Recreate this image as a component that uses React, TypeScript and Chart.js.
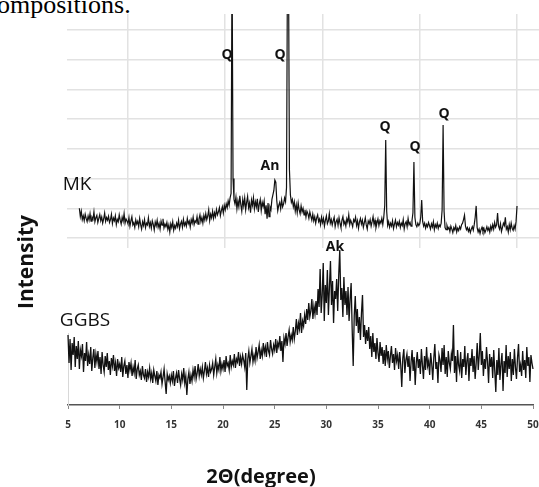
import React, { useEffect, useRef } from "react";
import { Chart, registerables } from "chart.js";

Chart.register(...registerables);

// ---- Data (2θ scans, 0.1° step from 5° to 50°) ----
const MK_START = 5;
const MK_STEP = 0.1;
const mkIntensity = [
  1.0, 0.72, 0.9, 0.62, 0.75, 0.58, 0.8, 0.66, 0.55, 0.74,
  0.6, 0.82, 0.57, 0.7, 0.63, 0.88, 0.55, 0.68, 0.76, 0.52,
  0.66, 0.79, 0.58, 0.71, 0.5, 0.64, 0.84, 0.56, 0.69, 0.6,
  0.73, 0.52, 0.62, 0.8, 0.49, 0.67, 0.58, 0.75, 0.45, 0.63,
  0.55, 0.78, 0.6, 0.47, 0.7, 0.56, 0.82, 0.5, 0.64, 0.57,
  0.48, 0.69, 0.4, 0.58, 0.72, 0.44, 0.52, 0.36, 0.61, 0.47,
  0.56, 0.38, 0.66, 0.45, 0.3, 0.55, 0.42, 0.62, 0.35, 0.5,
  0.44, 0.68, 0.39, 0.52, 0.33, 0.58, 0.46, 0.27, 0.54, 0.41,
  0.6, 0.36, 0.49, 0.3, 0.57, 0.43, 0.65, 0.34, 0.47, 0.38,
  0.52, 0.29, 0.44, 0.2, 0.48, 0.35, 0.55, 0.26, 0.42, 0.33,
  0.5, 0.38, 0.6, 0.31, 0.47, 0.56, 0.36, 0.63, 0.42, 0.52,
  0.4, 0.66, 0.48, 0.57, 0.37, 0.62, 0.5, 0.7, 0.45, 0.58,
  0.52, 0.72, 0.47, 0.64, 0.78, 0.55, 0.69, 0.5, 0.76, 0.6,
  0.82, 0.62, 0.74, 0.95, 0.58, 0.8, 0.68, 0.9, 0.66, 0.85,
  0.72, 0.96, 0.78, 0.88, 1.02, 0.75, 0.92, 1.05, 0.84, 1.1,
  0.95, 1.15, 1.02, 1.25, 1.1, 1.35, 1.5, 9.5, 2.0, 1.3,
  1.15, 1.38, 0.98, 1.25, 1.05, 1.42, 1.12, 0.9, 1.3, 1.08,
  1.35, 0.95, 1.2, 1.4, 1.02, 1.18, 0.85, 1.28, 1.1, 1.36,
  0.98, 1.22, 1.05, 1.32, 0.88, 1.15, 1.3, 0.92, 1.2, 1.06,
  1.25, 0.8, 1.1, 0.65, 1.18, 0.72, 1.05, 0.95, 1.3, 1.45,
  1.6, 1.95, 1.88, 1.25, 0.92, 1.1, 1.2, 0.98, 1.28, 1.05,
  1.15, 1.35, 1.22, 1.7, 9.5, 9.5, 2.3, 1.45, 1.2, 1.3,
  1.05, 1.22, 0.9, 1.12, 0.85, 1.18, 0.95, 0.82, 1.08, 0.88,
  1.0, 0.78, 0.95, 0.7, 0.9, 0.82, 0.66, 0.88, 0.74, 0.6,
  0.8, 0.58, 0.72, 0.5, 0.68, 0.78, 0.55, 0.64, 0.45, 0.7,
  0.52, 0.66, 0.4, 0.6, 0.74, 0.48, 0.57, 0.82, 0.5, 0.62,
  0.44, 0.58, 0.7, 0.38, 0.55, 0.63, 0.42, 0.68, 0.5, 0.35,
  0.6, 0.72, 0.46, 0.56, 0.4, 0.65, 0.53, 0.78, 0.45, 0.6,
  0.5, 0.38, 0.62, 0.55, 0.7, 0.42, 0.58, 0.33, 0.54, 0.66,
  0.47, 0.6, 0.36, 0.52, 0.68, 0.44, 0.3, 0.57, 0.48, 0.62,
  0.4, 0.55, 0.72, 0.45, 0.6, 0.35, 0.5, 0.64, 0.42, 0.58,
  0.5, 0.66, 0.45, 0.7, 1.1, 3.3, 0.9, 0.42, 0.55, 0.36,
  0.5, 0.4, 0.58, 0.32, 0.47, 0.6, 0.38, 0.52, 0.43, 0.56,
  0.35, 0.5, 0.42, 0.62, 0.3, 0.48, 0.55, 0.38, 0.66, 0.45,
  0.52, 0.4, 0.58, 0.85, 2.56, 0.7, 0.45, 0.38, 0.5, 0.42,
  0.48, 0.7, 1.28, 0.55, 0.4, 0.5, 0.33, 0.46, 0.38, 0.52,
  0.42, 0.3, 0.48, 0.37, 0.55, 0.28, 0.45, 0.36, 0.5, 0.32,
  0.44, 0.38, 0.5, 0.95, 3.8, 0.9, 0.35, 0.28, 0.42, 0.3,
  0.36, 0.22, 0.4, 0.3, 0.18, 0.35, 0.27, 0.42, 0.2, 0.33,
  0.25, 0.38, 0.3, 0.45, 0.5, 0.62, 0.77, 0.4, 0.28, 0.35,
  0.22, 0.32, 0.18, 0.3, 0.38, 0.26, 0.45, 0.7, 1.08, 0.35,
  0.2, 0.3, 0.15, 0.28, 0.36, 0.22, 0.32, 0.18, 0.27, 0.38,
  0.25, 0.34, 0.2, 0.4, 0.28, 0.45, 0.3, 0.52, 0.36, 0.44,
  0.84, 0.4, 0.3, 0.48, 0.22, 0.35, 0.5, 0.42, 0.7, 0.3,
  0.38, 0.2, 0.45, 0.28, 0.5, 0.33, 0.26, 0.42, 0.3, 0.55,
  1.08,
];

const GGBS_START = 5;
const GGBS_STEP = 0.1;
const ggbsIntensity = [
  7.0, 4.2, 6.6, 3.5, 6.2, 5.0, 6.8, 3.8, 5.9, 4.6,
  6.4, 3.6, 5.5, 4.9, 6.1, 3.3, 5.2, 4.4, 6.3, 3.9,
  5.0, 4.1, 5.8, 3.4, 4.7, 5.6, 3.7, 5.1, 4.3, 5.4,
  3.6, 4.8, 3.1, 5.3, 4.0, 3.3, 4.9, 3.8, 5.2, 3.5,
  4.4, 3.0, 4.7, 3.9, 5.0, 3.4, 4.2, 2.9, 4.6, 3.7,
  4.1, 3.3, 4.8, 2.8, 3.9, 4.4, 3.1, 4.0, 2.7, 4.3,
  3.5, 4.2, 2.9, 3.8, 3.2, 4.5, 2.6, 3.6, 4.0, 3.0,
  3.4, 2.5, 3.9, 3.0, 2.7, 3.6, 2.3, 3.3, 2.8, 3.7,
  2.6, 3.2, 2.2, 3.5, 2.9, 2.4, 3.4, 2.0, 3.0, 2.7,
  3.3, 2.1, 2.8, 3.6, 2.3, 1.1, 3.1, 2.5, 2.9, 2.2,
  3.0, 2.4, 3.4, 1.9, 2.7, 3.2, 2.2, 3.5, 2.6, 2.0,
  3.1, 2.5, 3.7, 2.2, 2.9, 1.0, 2.6, 3.3, 2.1, 3.0,
  2.4, 3.5, 2.8, 3.9, 2.6, 3.2, 4.1, 2.9, 3.6, 3.0,
  3.8, 2.7, 3.4, 4.3, 3.1, 3.7, 2.8, 4.0, 3.3, 3.6,
  4.2, 3.0, 3.8, 4.6, 3.2, 4.0, 3.5, 4.8, 3.4, 4.1,
  3.6, 4.5, 3.3, 4.9, 3.9, 4.2, 3.5, 5.0, 3.8, 4.4,
  4.0, 5.1, 3.7, 4.6, 4.3, 5.3, 3.9, 4.8, 4.1, 5.0,
  4.5, 3.8, 5.2, 1.5, 4.6, 5.4, 4.2, 4.9, 5.6, 4.3,
  5.0, 4.4, 5.8, 4.7, 5.3, 6.0, 4.6, 5.5, 4.9, 6.2,
  5.2, 5.8, 4.8, 6.3, 5.4, 5.0, 6.5, 5.6, 5.1, 6.0,
  5.5, 6.6, 5.2, 6.2, 5.8, 6.9, 5.4, 6.4, 4.3, 6.7,
  6.1, 7.2, 5.9, 6.8, 7.5, 6.3, 7.0, 6.5, 7.8, 6.6,
  7.4, 8.6, 7.0, 8.2, 7.6, 9.2, 7.2, 8.4, 7.9, 9.0,
  8.1, 9.6, 8.5, 10.2, 8.8, 9.4, 10.6, 8.6, 9.9, 9.1,
  10.4, 9.0, 11.6, 9.8, 13.6, 9.2, 11.0, 14.2, 8.4, 12.0,
  10.2, 13.5, 9.0, 11.8, 14.4, 10.0, 12.4, 8.2, 11.4, 10.6,
  12.6, 9.4, 13.0, 15.5, 10.5, 11.7, 8.8, 12.8, 10.0, 11.4,
  9.0, 11.8, 8.4, 10.6, 12.2, 7.6, 3.9, 8.9, 10.9, 7.9,
  9.6, 7.2, 8.8, 6.5, 9.2, 11.0, 6.8, 8.0, 6.1, 7.5,
  6.4, 7.8, 5.6, 6.9, 4.8, 7.2, 5.3, 6.2, 4.6, 6.7,
  5.2, 4.3, 6.3, 4.9, 5.8, 4.1, 5.5, 3.9, 6.0, 4.6,
  5.4, 3.7, 4.9, 5.9, 4.2, 5.1, 3.5, 5.7, 4.4, 5.0,
  3.6, 5.3, 4.0, 1.8, 4.7, 5.6, 3.2, 4.5, 5.1, 3.8,
  4.9, 2.4, 4.3, 5.5, 3.4, 4.8, 2.0, 4.2, 5.3, 3.7,
  4.6, 3.1, 5.6, 4.0, 2.6, 4.9, 3.5, 5.8, 3.9, 4.4,
  3.0, 5.2, 4.1, 2.5, 4.7, 6.1, 3.6, 4.3, 2.2, 5.0,
  4.5, 3.3, 5.7, 4.0, 6.0, 3.1, 4.8, 2.8, 5.4, 4.2,
  3.6, 5.1, 4.4, 8.0, 3.2, 4.9, 2.3, 5.5, 4.0, 3.4,
  5.3, 2.7, 4.6, 3.8, 5.9, 3.0, 4.4, 5.2, 2.4, 4.7,
  3.9, 5.6, 3.3, 4.9, 2.6, 4.2, 6.2, 3.5, 5.0, 7.2,
  4.0, 5.4, 2.9, 4.6, 3.6, 5.8, 4.3, 2.2, 5.1, 3.8,
  4.8, 2.7, 5.5, 3.4, 1.3, 4.5, 3.0, 5.7, 2.5, 4.1,
  5.2, 1.4, 4.4, 3.2, 6.0, 2.8, 4.9, 3.6, 5.3, 2.4,
  4.6, 3.0, 5.6, 3.8, 2.6, 4.7, 6.1, 3.3, 4.0, 2.9,
  5.4, 3.5, 4.5, 2.7, 5.8, 3.9, 4.8, 2.3, 5.0, 4.2,
  3.6,
];

const xTickValues = [5, 10, 15, 20, 25, 30, 35, 40, 45, 50];
const mkGridX = [10, 20, 30, 40, 50];
const mkGridY = [0, 1, 2, 3, 4, 5, 6, 7];

const GRID = "#e2e2e2";
const SANS = '"Open Sans", "DejaVu Sans", sans-serif';

function Label(props: { text: string; cx: number; cy: number; size: number; bold?: boolean; rotate?: number }) {
  const { text, cx, cy, size, bold, rotate } = props;
  return (
    <div
      style={{
        position: "absolute",
        left: cx,
        top: cy,
        transform: `translate(-50%, -50%)${rotate ? ` rotate(${rotate}deg)` : ""}`,
        fontFamily: SANS,
        fontSize: size,
        fontWeight: bold ? 700 : 400,
        lineHeight: 1,
        whiteSpace: "nowrap",
        color: "#111",
      }}
    >
      {text}
    </div>
  );
}

export default function App() {
  const mkRef = useRef<HTMLCanvasElement>(null);
  const gRef = useRef<HTMLCanvasElement>(null);

  useEffect(() => {
    const mkData = mkIntensity.map((y, i) => ({ x: +(MK_START + i * MK_STEP).toFixed(2), y }));
    const gData = ggbsIntensity.map((y, i) => ({ x: +(GGBS_START + i * GGBS_STEP).toFixed(2), y }));

    const mk = new Chart(mkRef.current as HTMLCanvasElement, {
      type: "line",
      data: {
        datasets: [
          {
            data: mkData,
            borderColor: "#111",
            borderWidth: 1.2,
            pointRadius: 0,
            tension: 0,
          },
        ],
      },
      options: {
        responsive: false,
        animation: false,
        events: [],
        plugins: { legend: { display: false }, tooltip: { enabled: false } },
        layout: { padding: { left: 67, right: 0, top: 14, bottom: 239 } },
        scales: {
          x: {
            type: "linear",
            min: 3.73,
            max: 52.26,
            afterBuildTicks: (s: any) => {
              s.ticks = mkGridX.map((v) => ({ value: v }));
            },
            afterFit: (s: any) => {
              s.height = 10;
            },
            ticks: { display: false },
            grid: { color: GRID, lineWidth: 1.5, drawTicks: true, tickLength: 10 },
            border: { display: false },
          },
          y: {
            type: "linear",
            min: 0,
            max: 7.54,
            afterBuildTicks: (s: any) => {
              s.ticks = mkGridY.map((v) => ({ value: v }));
            },
            afterFit: (s: any) => {
              s.width = 0;
            },
            ticks: { display: false },
            grid: { color: GRID, lineWidth: 1.5, drawTicks: false },
            border: { display: false },
          },
        },
      },
    } as any);

    const gg = new Chart(gRef.current as HTMLCanvasElement, {
      type: "line",
      data: {
        datasets: [
          {
            data: gData,
            borderColor: "#111",
            borderWidth: 1.3,
            pointRadius: 0,
            tension: 0,
            clip: false,
          },
        ],
      },
      options: {
        responsive: false,
        animation: false,
        events: [],
        plugins: { legend: { display: false }, tooltip: { enabled: false } },
        layout: { padding: { left: 68, right: 27, top: 333, bottom: 52 } },
        scales: {
          x: {
            type: "linear",
            min: 5,
            max: 50,
            afterBuildTicks: (s: any) => {
              s.ticks = xTickValues.map((v) => ({ value: v }));
            },
            afterFit: (s: any) => {
              s.height = 30;
            },
            ticks: {
              autoSkip: false,
              maxRotation: 0,
              padding: 10,
              color: "#333",
              font: { family: SANS, weight: "bold", size: 10 },
            },
            grid: { drawOnChartArea: false, drawTicks: true, tickLength: 4, color: "#888", lineWidth: 1 },
            border: { display: true, color: "#555", width: 1.5 },
          },
          y: {
            type: "linear",
            min: 0,
            max: 7.2,
            afterFit: (s: any) => {
              s.width = 0;
            },
            ticks: { display: false },
            grid: { display: false },
            border: { display: true, color: "#d8d8d8", width: 1 },
          },
        },
      },
    } as any);

    return () => {
      mk.destroy();
      gg.destroy();
    };
  }, []);

  return (
    <div
      style={{
        position: "fixed",
        left: 0,
        top: 0,
        width: 539,
        height: 487,
        overflow: "hidden",
        background: "#fff",
      }}
    >
      <div
        style={{
          position: "absolute",
          left: -3,
          top: -8,
          fontFamily: '"Liberation Serif", "Times New Roman", serif',
          fontSize: 26,
          lineHeight: "25px",
          whiteSpace: "nowrap",
          color: "#000",
        }}
      >
        ompositions.
      </div>
      <canvas ref={mkRef} width={539} height={487} style={{ position: "absolute", left: 0, top: 0 }} />
      <canvas ref={gRef} width={560} height={487} style={{ position: "absolute", left: 0, top: 0 }} />

      <Label text="Q" cx={227} cy={54} size={14} bold />
      <Label text="Q" cx={280} cy={54} size={14} bold />
      <Label text="Q" cx={385} cy={126} size={14} bold />
      <Label text="Q" cx={415} cy={146} size={14} bold />
      <Label text="Q" cx={444} cy={113} size={14} bold />
      <Label text="An" cx={270} cy={165} size={14} bold />
      <Label text="Ak" cx={335} cy={246} size={14} bold />
      <Label text="MK" cx={77} cy={183} size={19} />
      <Label text="GGBS" cx={85} cy={319} size={19} />
      <Label text="2Θ(degree)" cx={261} cy={476} size={20} bold />
      <Label text="Intensity" cx={25} cy={262} size={21} bold rotate={-90} />
    </div>
  );
}
